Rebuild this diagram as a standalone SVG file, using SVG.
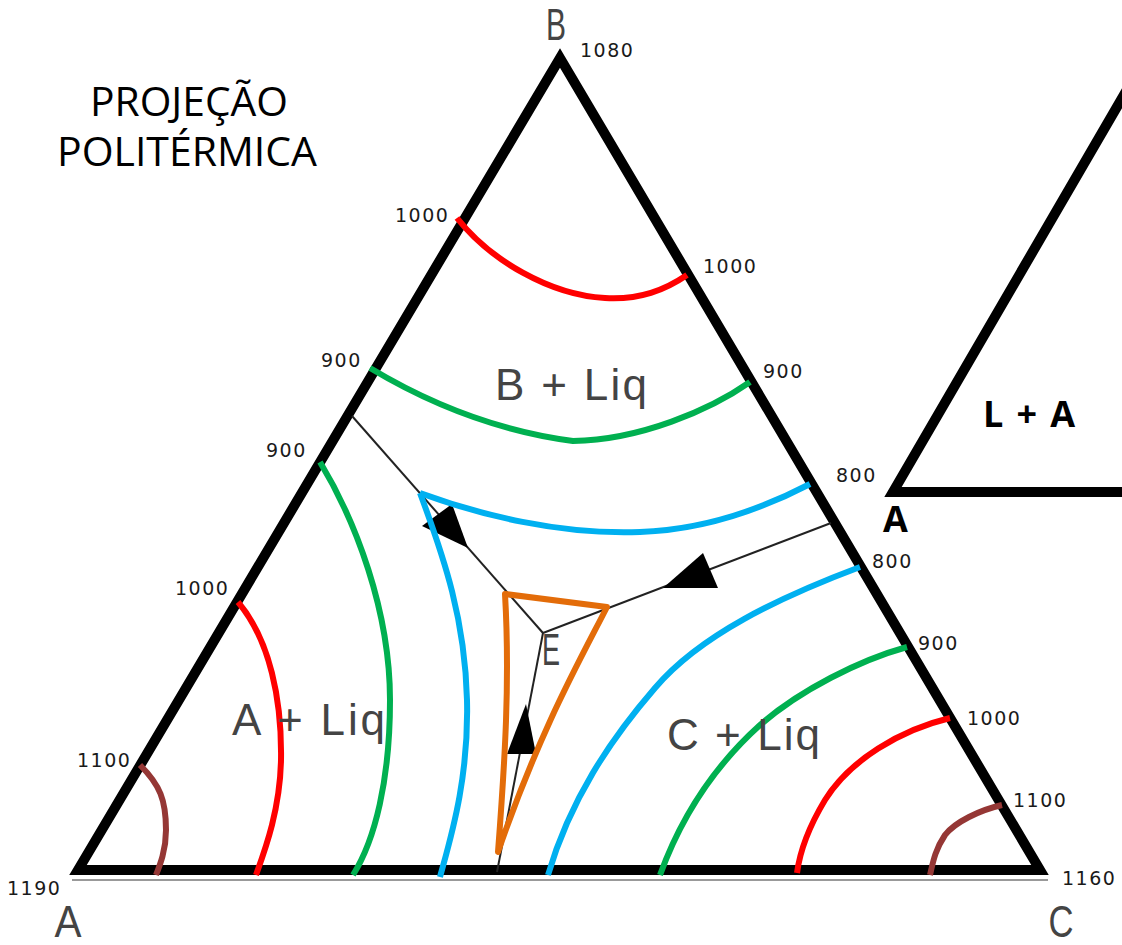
<svg xmlns="http://www.w3.org/2000/svg" width="1122" height="945" viewBox="0 0 1122 945">
<style>
.frame{fill:none;stroke:#000;stroke-width:10;stroke-linejoin:miter;stroke-miterlimit:10}
.base{fill:none;stroke:#777;stroke-width:1.5}
.num{font-family:"DejaVu Sans",sans-serif;font-size:19px;fill:#1a1a1a;letter-spacing:1.5px}
.big{font-family:"Liberation Sans",Arial,sans-serif;font-size:44px;fill:#444}
.title{font-family:"Open Sans",sans-serif;font-size:40px;fill:#000}
.bold{font-family:"Open Sans",sans-serif;font-size:36px;font-weight:bold;fill:#000}
.iso{fill:none;stroke-width:6;stroke-linecap:butt;stroke-linejoin:round}
.red{stroke:#FF0000}.green{stroke:#00B050}.blue{stroke:#00B0F0}.brown{stroke:#953735}.orange{stroke:#E36C09}
.thin{fill:none;stroke:#222;stroke-width:2}
.head{fill:#000}
</style>
<rect width="1122" height="945" fill="#fff"/>
<g id="title">
<text class="title" x="90" y="116" textLength="198" lengthAdjust="spacingAndGlyphs">PROJEÇÃO</text>
<text class="title" x="57" y="166" textLength="260" lengthAdjust="spacingAndGlyphs">POLITÉRMICA</text>
</g>
<g id="triangle">
<line class="base" x1="72" y1="880" x2="1048" y2="880"/>
<polygon class="frame" points="78,870 560,58 1040,870"/>
</g>
<g id="connectors">
<line class="thin" x1="352" y1="416" x2="543" y2="633"/>
<line class="thin" x1="543" y1="633" x2="831" y2="523"/>
<line class="thin" x1="543" y1="633" x2="497" y2="872"/>
<polygon class="head" points="468,548 422,526 452,504"/>
<polygon class="head" points="663,588 718,588 703,553"/>
<polygon class="head" points="526,704 507,754 536,754"/>
</g>
<g id="isotherms">
<path class="iso red" d="M457,218 C490,260 550,295 605,298 C640,300 665,290 687,275"/>
<path class="iso green" d="M370,368 C420,398 490,430 573,441 C640,440 710,410 750,382"/>
<path class="iso blue" d="M420,493 C480,515 560,535 640,532 C700,530 760,510 810,484"/>
<path class="iso blue" d="M420,493 C445,560 465,620 467,700 C469,780 450,840 440,877"/>
<path class="iso green" d="M320,462 C355,520 390,610 390,700 C390,780 375,840 353,875"/>
<path class="iso red" d="M238,602 C270,640 282,700 281,760 C280,810 265,850 256,875"/>
<path class="iso brown" d="M140,765 C160,785 166,800 166,830 C166,850 160,865 156,875"/>
<path class="iso blue" d="M860,567 C780,597 700,635 655,688 C610,740 570,800 548,875"/>
<path class="iso green" d="M907,647 C860,660 800,690 760,725 C710,770 680,820 660,875"/>
<path class="iso red" d="M950,718 C900,730 850,760 825,800 C810,825 800,850 797,873"/>
<path class="iso brown" d="M1002,805 C980,810 955,822 945,835 C935,850 933,862 930,875"/>
<path class="iso orange" d="M505,594 L607,607 C580,660 540,730 498,852 C505,760 510,680 505,594 Z"/>
</g>
<g id="labels">
<text class="big" x="556" y="40" text-anchor="middle" textLength="20" lengthAdjust="spacingAndGlyphs">B</text>
<text class="big" x="68" y="937" text-anchor="middle" textLength="27" lengthAdjust="spacingAndGlyphs">A</text>
<text class="big" x="1061" y="937" text-anchor="middle" textLength="25" lengthAdjust="spacingAndGlyphs">C</text>
<text class="big" x="495" y="400" textLength="152">B + Liq</text>
<text class="big" x="232" y="735" textLength="153">A + Liq</text>
<text class="big" x="667" y="750" textLength="153">C + Liq</text>
<text class="big" x="542" y="665" font-size="27" textLength="18" lengthAdjust="spacingAndGlyphs">E</text>
<text class="num" x="580" y="57">1080</text>
<text class="num" x="395" y="222">1000</text>
<text class="num" x="703" y="273">1000</text>
<text class="num" x="321" y="367">900</text>
<text class="num" x="763" y="378">900</text>
<text class="num" x="266" y="457">900</text>
<text class="num" x="836" y="482">800</text>
<text class="num" x="872" y="568">800</text>
<text class="num" x="918" y="650">900</text>
<text class="num" x="175" y="595">1000</text>
<text class="num" x="77" y="767">1100</text>
<text class="num" x="967" y="725">1000</text>
<text class="num" x="1013" y="807">1100</text>
<text class="num" x="1062" y="885">1160</text>
<text class="num" x="7" y="895">1190</text>
</g>
<g id="inset">
<polyline class="frame" points="1128,88 893,492 1130,492"/>
<text class="bold" x="983" y="427" textLength="92">L + A</text>
<text class="bold" x="883" y="532">A</text>
</g>
</svg>
